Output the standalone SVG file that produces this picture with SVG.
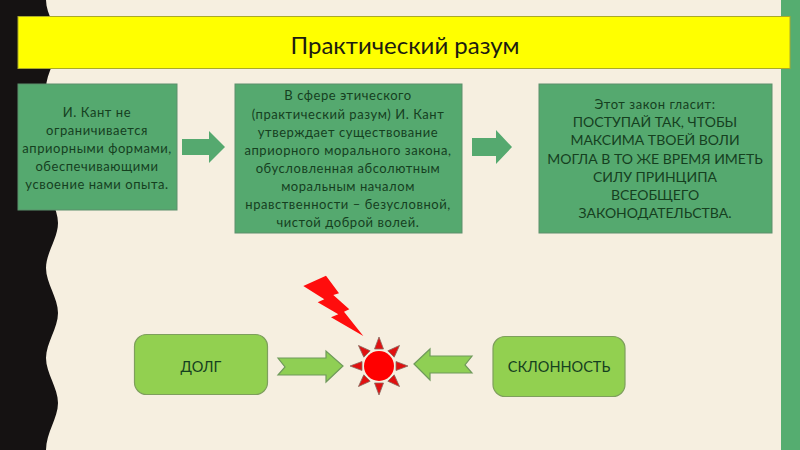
<svg xmlns="http://www.w3.org/2000/svg" width="800" height="450" viewBox="0 0 800 450">
<style>
text{font-family:"Lato","Noto Sans","Open Sans",sans-serif;fill:#15401f;text-anchor:middle}
.b{fill:#55a96f;stroke:#5d8f6c;stroke-width:1}
.t{font-size:13px;letter-spacing:.55px}
.c{font-size:14px}
.g{fill:#92d050;stroke:#7e9f5c;stroke-width:1.2}
.ga{fill:#8fcf54;stroke:#6f9a5b;stroke-width:1.2}
.ar{fill:#55a96f}
.ray{fill:#e01010;stroke:#8a6a60;stroke-width:.8}
</style>
<rect width="800" height="450" fill="#f6efe0"/>
<path d="M0 0H46C46 15 58 28 58 43C58 58 46 73 46 88C46 103 58 118 58 133C58 148 46 163 46 178C46 193 58 208 58 223C58 238 46 253 46 268C46 283 58 298 58 313C58 328 46 343 46 358C46 373 58 388 58 403C58 418 46 433 46 450H0Z" fill="#151212"/>
<rect x="781" y="0" width="19" height="450" fill="#55ad70"/>
<g id="title"><rect x="18" y="16.500" width="772" height="52" fill="#ffff00" stroke="#a9a92a" stroke-width="1"/>
<text x="405" y="54" font-size="24" style="fill:#1c1c10">Практический разум</text></g>
<g id="box1"><rect class="b" x="18" y="84" width="159" height="126"/>
<text class="t" x="97" y="117">И. Кант не</text>
<text class="t" x="97" y="135">ограничивается</text>
<text class="t" x="97" y="153">априорными формами,</text>
<text class="t" x="97" y="171">обеспечивающими</text>
<text class="t" x="97" y="189">усвоение нами опыта.</text></g>
<g id="box2"><rect class="b" x="235" y="84" width="227" height="149"/>
<text class="t" x="348" y="100">В сфере этического</text>
<text class="t" x="348" y="119">(практический разум) И. Кант</text>
<text class="t" x="348" y="137">утверждает существование</text>
<text class="t" x="348" y="155">априорного морального закона,</text>
<text class="t" x="348" y="173">обусловленная абсолютным</text>
<text class="t" x="348" y="191">моральным началом</text>
<text class="t" x="348" y="209">нравственности – безусловной,</text>
<text class="t" x="348" y="227">чистой доброй волей.</text></g>
<g id="box3"><rect class="b" x="539" y="84" width="233" height="149"/>
<text class="t" x="655" y="109">Этот закон гласит:</text>
<text class="c" x="655" y="127">ПОСТУПАЙ ТАК, ЧТОБЫ</text>
<text class="c" x="655" y="145">МАКСИМА ТВОЕЙ ВОЛИ</text>
<text class="c" x="655" y="164">МОГЛА В ТО ЖЕ ВРЕМЯ ИМЕТЬ</text>
<text class="c" x="655" y="182">СИЛУ ПРИНЦИПА</text>
<text class="c" x="655" y="200">ВСЕОБЩЕГО</text>
<text class="c" x="655" y="218">ЗАКОНОДАТЕЛЬСТВА.</text></g>
<g id="duty"><rect class="g" x="134.500" y="334.500" width="133" height="60" rx="12"/>
<text x="201" y="372" font-size="14.500">ДОЛГ</text></g>
<g id="inclination"><rect class="g" x="493" y="336.500" width="132" height="60" rx="12"/>
<text x="559" y="372" font-size="14.500">СКЛОННОСТЬ</text></g>
<g id="sun">
<circle cx="379" cy="366" r="15" fill="#ff0000"/>
<g class="ray">
<path d="M379 337L383.500 349H374.500Z"/>
<path d="M379 337L383.500 349H374.500Z" transform="rotate(45 379 366)"/>
<path d="M379 337L383.500 349H374.500Z" transform="rotate(90 379 366)"/>
<path d="M379 337L383.500 349H374.500Z" transform="rotate(135 379 366)"/>
<path d="M379 337L383.500 349H374.500Z" transform="rotate(180 379 366)"/>
<path d="M379 337L383.500 349H374.500Z" transform="rotate(225 379 366)"/>
<path d="M379 337L383.500 349H374.500Z" transform="rotate(270 379 366)"/>
<path d="M379 337L383.500 349H374.500Z" transform="rotate(315 379 366)"/>
</g></g>
<g id="lightning"><path d="M303.300 286L326 275.700L339 293.300L333.300 295L349.300 309.300L344 311.700L363.300 336L331 317.300L338.300 314.300L317.700 302.300L324.300 299.300Z" fill="#ff0d0d"/></g>
<g id="connectors">
<path class="ar" d="M182 139H209V131L225 147L209 163V155H182Z"/>
<path class="ar" d="M472 138H496V130L512 147L496 164V156H472Z"/>
<path class="ga" d="M278 358H326V351L343 366L326 382V375H278L285 367Z"/>
<path class="ga" d="M414 364L430 349V356H472L465 365L472 373H430V380Z"/>
</g>
</svg>
